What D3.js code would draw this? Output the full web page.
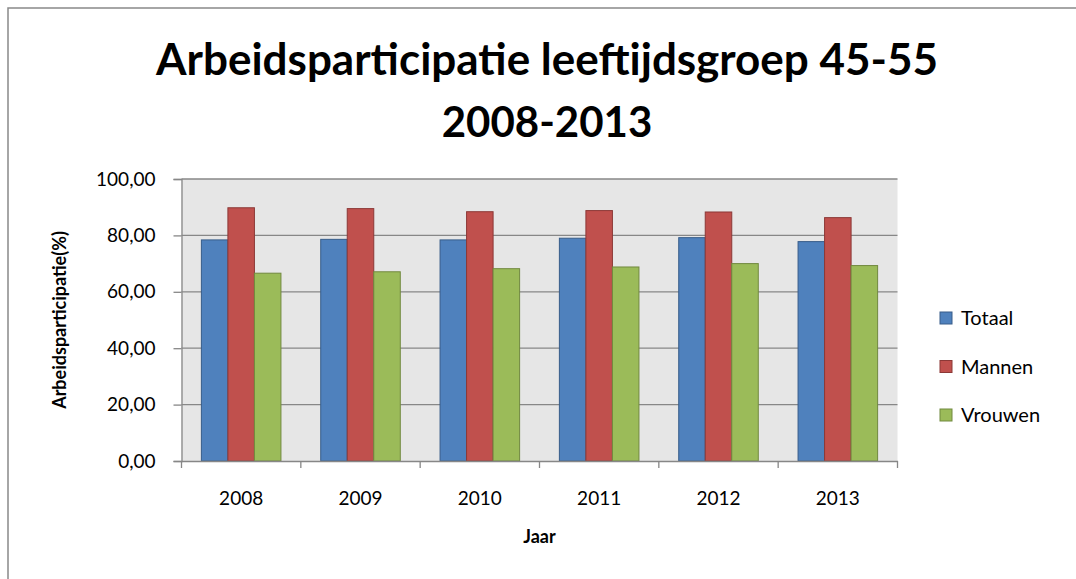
<!DOCTYPE html>
<html>
<head>
<meta charset="utf-8">
<script src="https://cdn.jsdelivr.net/npm/d3@7"></script>
<style>
  html, body { margin: 0; background: #fff; overflow: hidden; }
  svg { display: block; }
  text { font-family: Lato, "Open Sans", sans-serif; fill: #000; }
</style>
</head>
<body>
<svg id="chart" width="1076" height="579"></svg>
<script>
const years = ["2008", "2009", "2010", "2011", "2012", "2013"];
const series = ["Totaal", "Mannen", "Vrouwen"];
const totaal = [78.4, 78.6, 78.4, 79.0, 79.2, 77.8];
const mannen = [89.8, 89.5, 88.4, 88.8, 88.3, 86.3];
const vrouwen = [66.6, 67.1, 68.2, 68.8, 70.0, 69.3];
const yTicks = [0, 20, 40, 60, 80, 100];

const fills = ["#4f81bd", "#c0504d", "#9bbb59"];
const strokes = ["#385d8a", "#8c3836", "#71893f"];

const values = [totaal, mannen, vrouwen];
const rows = years.map((y, i) => ({year: y, vals: series.map((s, k) => ({key: s, k: k, v: values[k][i]}))}));

const svg = d3.select("#chart");
const W = +svg.attr("width"), H = +svg.attr("height");
const plot = {left: 181.5, right: 897.5, top: 179, bottom: 461};

// chart frame: only top and left edges fall inside the picture
svg.append("path")
  .attr("d", `M8,${H} L8,8 L${W},8`)
  .attr("fill", "none").attr("stroke", "#898989").attr("stroke-width", 1.5);

const x = d3.scaleBand().domain(years).range([plot.left, plot.right]).paddingInner(0).paddingOuter(0);
const sub = d3.scaleBand().domain(series)
  .range([x.bandwidth() * 0.75 / 4.5, x.bandwidth() - x.bandwidth() * 0.75 / 4.5]);
const y = d3.scaleLinear().domain([0, 100]).range([plot.bottom, plot.top]);

svg.append("rect")
  .attr("x", plot.left).attr("y", plot.top)
  .attr("width", plot.right - plot.left).attr("height", plot.bottom - plot.top)
  .attr("fill", "#e6e6e6");

// gridlines
svg.append("g")
  .selectAll("line")
  .data(yTicks.filter(t => t > 0))
  .join("line")
  .attr("x1", plot.left).attr("x2", plot.right)
  .attr("y1", d => y(d)).attr("y2", d => y(d))
  .attr("stroke", "#878787").attr("stroke-width", 1.3);

// bars
svg.append("g")
  .selectAll("g")
  .data(rows)
  .join("g")
  .attr("transform", d => `translate(${x(d.year)},0)`)
  .selectAll("rect")
  .data(d => d.vals)
  .join("rect")
  .attr("x", d => sub(d.key))
  .attr("y", d => y(d.v))
  .attr("width", sub.bandwidth())
  .attr("height", d => y(0) - y(d.v))
  .attr("fill", d => fills[d.k])
  .attr("stroke", d => strokes[d.k])
  .attr("stroke-width", 1);

// y axis
const yAxis = svg.append("g")
  .attr("transform", `translate(${plot.left},0)`)
  .call(d3.axisLeft(y).tickValues(yTicks).tickSize(8).tickPadding(18)
    .tickFormat(d => d3.format(".2f")(d).replace(".", ",")));
yAxis.select(".domain").attr("stroke", "#878787").attr("stroke-width", 1.3);
yAxis.selectAll(".tick line").attr("stroke", "#878787").attr("stroke-width", 1.3);
yAxis.selectAll(".tick text").attr("font-size", 19).attr("font-family", "Lato, sans-serif").attr("fill", "#000");

// x axis
const xAxis = svg.append("g")
  .attr("transform", `translate(0,${plot.bottom})`)
  .call(d3.axisBottom(x).tickSize(0).tickPadding(31));
xAxis.select(".domain").attr("stroke", "#878787").attr("stroke-width", 1.3);
xAxis.selectAll(".tick text").attr("font-size", 19).attr("font-family", "Lato, sans-serif").attr("fill", "#000");
xAxis.selectAll(".sep")
  .data(d3.range(years.length + 1))
  .join("line")
  .attr("class", "sep")
  .attr("x1", i => plot.left + i * x.step()).attr("x2", i => plot.left + i * x.step())
  .attr("y1", 0).attr("y2", 7)
  .attr("stroke", "#878787").attr("stroke-width", 1.3);

// axis titles
svg.append("text")
  .attr("x", (plot.left + plot.right) / 2).attr("y", 543)
  .attr("text-anchor", "middle")
  .attr("font-size", 18).attr("font-weight", "bold")
  .text("Jaar");

svg.append("text")
  .attr("transform", `translate(66,${(plot.top + plot.bottom) / 2}) rotate(-90)`)
  .attr("text-anchor", "middle")
  .attr("font-size", 18).attr("font-weight", "bold")
  .text("Arbeidsparticipatie(%)");

// title
const title = svg.append("text")
  .attr("text-anchor", "middle")
  .attr("font-weight", "bold");
title.append("tspan").attr("x", 547).attr("y", 75).attr("font-size", 44)
  .text("Arbeidsparticipatie leeftijdsgroep 45-55");
title.append("tspan").attr("x", 547).attr("y", 137).attr("font-size", 42)
  .text("2008-2013");

// legend
const legend = svg.append("g")
  .selectAll("g")
  .data(series)
  .join("g")
  .attr("transform", (d, i) => `translate(940,${318 + i * 48.5})`);
legend.append("rect")
  .attr("x", 0).attr("y", -6)
  .attr("width", 12).attr("height", 12)
  .attr("fill", (d, i) => fills[i])
  .attr("stroke", (d, i) => strokes[i]);
legend.append("text")
  .attr("x", 21).attr("y", 0).attr("dy", "0.35em")
  .attr("font-size", 20)
  .text(d => d);
</script>
</body>
</html>
